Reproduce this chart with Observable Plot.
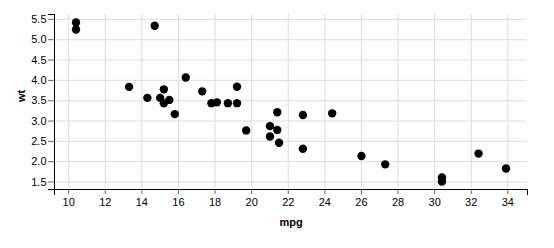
<!DOCTYPE html>
<html><head><meta charset="utf-8">
<script src="https://cdn.jsdelivr.net/npm/d3@7"></script>
<script src="https://cdn.jsdelivr.net/npm/@observablehq/plot@0.6"></script>
<style>body{margin:0;background:#fff;} svg{font-family:"Liberation Sans",Arial,sans-serif;}</style>
</head><body><div id="chart"></div>
<script>
const mpg = [21.0,21.0,22.8,21.4,18.7,18.1,14.3,24.4,22.8,19.2,17.8,16.4,17.3,15.2,10.4,10.4,14.7,32.4,30.4,33.9,21.5,15.5,15.2,13.3,19.2,27.3,26.0,30.4,15.8,19.7,15.0,21.4];
const wt = [2.620,2.875,2.320,3.215,3.440,3.460,3.570,3.190,3.150,3.440,3.440,4.070,3.730,3.780,5.250,5.424,5.345,2.200,1.615,1.835,2.465,3.520,3.435,3.840,3.845,1.935,2.140,1.513,3.170,2.770,3.570,2.780];
const xTicks = [10,12,14,16,18,20,22,24,26,28,30,32,34];
const yTicks = [1.5,2.0,2.5,3.0,3.5,4.0,4.5,5.0,5.5];
const xDomain = [9.225, 35.075];
const yDomain = [1.317, 5.62];
const data = mpg.map((m, i) => ({mpg: m, wt: wt[i]}));

const chart = Plot.plot({
  width: 554, height: 248,
  marginLeft: 54, marginRight: 27, marginTop: 14, marginBottom: 59,
  style: {fontSize: "11px", fontFamily: "'Liberation Sans', Arial, sans-serif", color: "#000", background: "#fff"},
  x: {domain: xDomain},
  y: {domain: yDomain},
  marks: [
    Plot.gridX(xTicks, {stroke: "#ddd", strokeOpacity: 1, strokeWidth: 1}),
    Plot.gridY(yTicks, {stroke: "#ddd", strokeOpacity: 1, strokeWidth: 1}),
    Plot.axisX({ticks: xTicks, tickSize: 5, tickPadding: 4, stroke: "#666", fill: "#000", label: null}),
    Plot.axisY({ticks: yTicks, tickSize: 6, tickPadding: 2, stroke: "#666", fill: "#000", tickFormat: d => d.toFixed(1), label: null}),
    Plot.axisX({ticks: xDomain, tickSize: 6, stroke: "#000", tickFormat: () => "", label: null}),
    Plot.axisY({ticks: yDomain, tickSize: 6, stroke: "#000", tickFormat: () => "", label: null}),
    Plot.ruleY([yDomain[0]], {stroke: "#000"}),
    Plot.ruleX([xDomain[0]], {stroke: "#000"}),
    Plot.dot(data, {x: "mpg", y: "wt", r: 4.2, fill: "#000", stroke: "none"}),
    Plot.text(["mpg"], {frameAnchor: "bottom", dy: 36, text: d => d, fontWeight: "bold", fontSize: 11, fill: "#000"}),
    Plot.text(["wt"], {frameAnchor: "left", dx: -33, rotate: -90, text: d => d, fontWeight: "bold", fontSize: 11, fill: "#000"})
  ]
});
document.getElementById("chart").appendChild(chart);
</script></body></html>
